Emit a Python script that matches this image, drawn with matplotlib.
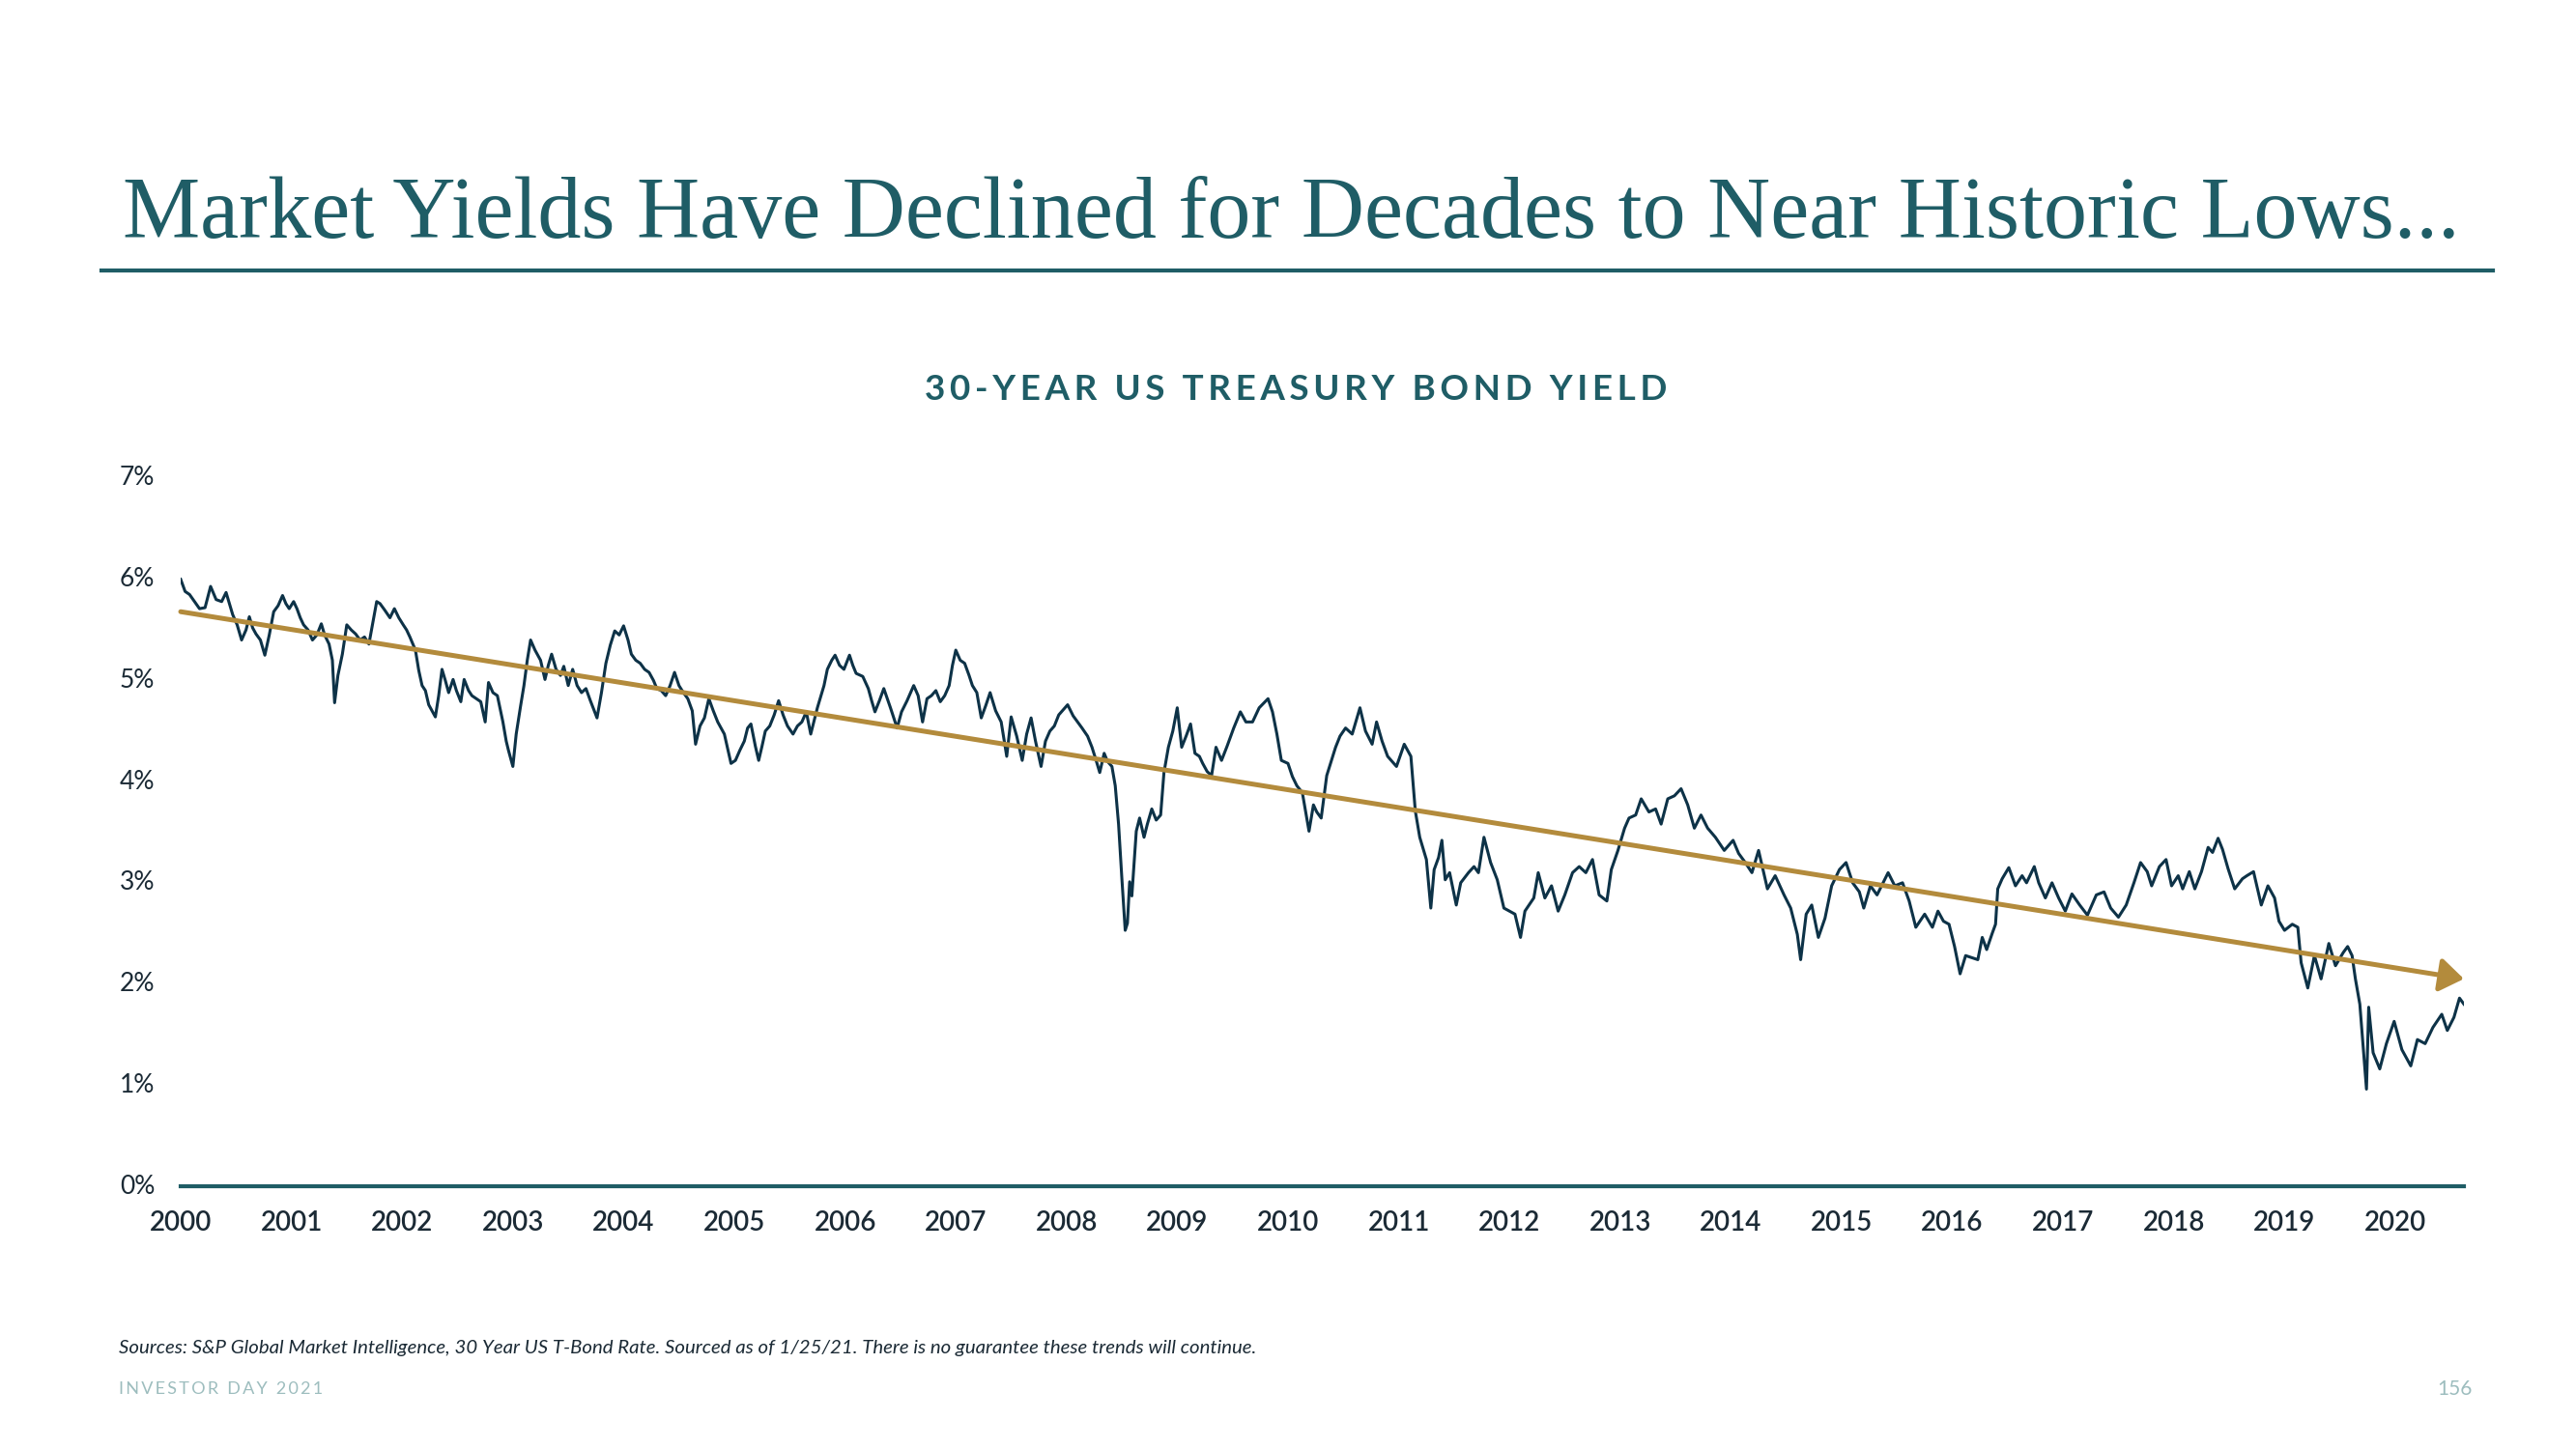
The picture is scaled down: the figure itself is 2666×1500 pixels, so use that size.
import matplotlib
matplotlib.use("Agg")
import matplotlib.pyplot as plt
import matplotlib.transforms as mtransforms
from matplotlib.lines import Line2D

# 30-year treasury yield (decimal year, percent)
dates = [
    2000.00, 2000.04, 2000.08, 2000.17, 2000.22, 2000.27, 2000.32, 2000.37, 2000.41, 2000.47,
    2000.51, 2000.55, 2000.59, 2000.62, 2000.65, 2000.68, 2000.72, 2000.76, 2000.80, 2000.84,
    2000.88, 2000.92, 2000.95, 2000.98, 2001.02, 2001.05, 2001.08, 2001.11, 2001.15, 2001.19,
    2001.23, 2001.27, 2001.30, 2001.34, 2001.37, 2001.39, 2001.42, 2001.46, 2001.50, 2001.54,
    2001.58, 2001.62, 2001.66, 2001.70, 2001.74, 2001.77, 2001.80, 2001.84, 2001.89, 2001.93,
    2001.97, 2002.01, 2002.04, 2002.07, 2002.12, 2002.15, 2002.18, 2002.21, 2002.24, 2002.27,
    2002.30, 2002.33, 2002.36, 2002.39, 2002.42, 2002.46, 2002.49, 2002.53, 2002.56, 2002.60,
    2002.63, 2002.67, 2002.71, 2002.75, 2002.78, 2002.82, 2002.86, 2002.91, 2002.94, 2002.96,
    2003.00, 2003.03, 2003.07, 2003.10, 2003.13, 2003.16, 2003.20, 2003.25, 2003.29, 2003.32,
    2003.35, 2003.39, 2003.43, 2003.46, 2003.50, 2003.54, 2003.58, 2003.62, 2003.66, 2003.70,
    2003.76, 2003.80, 2003.84, 2003.88, 2003.92, 2003.96, 2004.00, 2004.04, 2004.07, 2004.11,
    2004.15, 2004.19, 2004.23, 2004.27, 2004.30, 2004.34, 2004.38, 2004.42, 2004.46, 2004.50,
    2004.54, 2004.58, 2004.62, 2004.65, 2004.69, 2004.73, 2004.77, 2004.81, 2004.85, 2004.91,
    2004.97, 2005.01, 2005.05, 2005.09, 2005.12, 2005.15, 2005.19, 2005.22, 2005.25, 2005.28,
    2005.32, 2005.36, 2005.40, 2005.44, 2005.48, 2005.53, 2005.57, 2005.61, 2005.65, 2005.69,
    2005.72, 2005.75, 2005.81, 2005.84, 2005.88, 2005.91, 2005.95, 2005.99, 2006.04, 2006.07,
    2006.10, 2006.16, 2006.21, 2006.24, 2006.27, 2006.31, 2006.35, 2006.41, 2006.47, 2006.51,
    2006.56, 2006.62, 2006.66, 2006.70, 2006.74, 2006.78, 2006.82, 2006.86, 2006.90, 2006.94,
    2006.97, 2007.00, 2007.04, 2007.08, 2007.12, 2007.15, 2007.19, 2007.23, 2007.27, 2007.31,
    2007.36, 2007.41, 2007.46, 2007.50, 2007.55, 2007.60, 2007.64, 2007.68, 2007.72, 2007.77,
    2007.81, 2007.85, 2007.89, 2007.93, 2008.01, 2008.06, 2008.10, 2008.14, 2008.19, 2008.23,
    2008.27, 2008.30, 2008.34, 2008.37, 2008.41, 2008.44, 2008.47, 2008.50, 2008.53, 2008.55,
    2008.57, 2008.59, 2008.63, 2008.66, 2008.70, 2008.73, 2008.77, 2008.81, 2008.85, 2008.88,
    2008.92, 2008.96, 2009.00, 2009.04, 2009.08, 2009.12, 2009.16, 2009.20, 2009.23, 2009.27,
    2009.31, 2009.35, 2009.40, 2009.45, 2009.51, 2009.57, 2009.62, 2009.68, 2009.74, 2009.82,
    2009.86, 2009.90, 2009.94, 2010.00, 2010.04, 2010.08, 2010.13, 2010.19, 2010.23, 2010.26,
    2010.30, 2010.35, 2010.43, 2010.47, 2010.52, 2010.58, 2010.65, 2010.70, 2010.76, 2010.80,
    2010.85, 2010.90, 2010.98, 2011.05, 2011.11, 2011.15, 2011.19, 2011.25, 2011.29, 2011.32,
    2011.36, 2011.39, 2011.42, 2011.46, 2011.52, 2011.56, 2011.63, 2011.68, 2011.72, 2011.77,
    2011.83, 2011.89, 2011.95, 2012.00, 2012.05, 2012.10, 2012.14, 2012.22, 2012.26, 2012.32,
    2012.38, 2012.44, 2012.50, 2012.57, 2012.63, 2012.69, 2012.75, 2012.81, 2012.88, 2012.92,
    2012.98, 2013.04, 2013.08, 2013.14, 2013.19, 2013.26, 2013.32, 2013.37, 2013.43, 2013.49,
    2013.55, 2013.61, 2013.67, 2013.73, 2013.79, 2013.86, 2013.94, 2014.02, 2014.07, 2014.13,
    2014.19, 2014.25, 2014.33, 2014.40, 2014.48, 2014.54, 2014.60, 2014.63, 2014.68, 2014.73,
    2014.79, 2014.85, 2014.91, 2014.98, 2015.04, 2015.10, 2015.16, 2015.20, 2015.26, 2015.32,
    2015.42, 2015.48, 2015.55, 2015.61, 2015.67, 2015.75, 2015.82, 2015.87, 2015.92, 2015.97,
    2016.02, 2016.07, 2016.12, 2016.23, 2016.27, 2016.31, 2016.36, 2016.39, 2016.41, 2016.45,
    2016.51, 2016.57, 2016.63, 2016.67, 2016.74, 2016.78, 2016.84, 2016.90, 2016.96, 2017.02,
    2017.08, 2017.15, 2017.22, 2017.30, 2017.37, 2017.43, 2017.50, 2017.57, 2017.64, 2017.70,
    2017.76, 2017.80, 2017.87, 2017.93, 2017.98, 2018.04, 2018.08, 2018.14, 2018.19, 2018.25,
    2018.31, 2018.35, 2018.40, 2018.44, 2018.49, 2018.55, 2018.62, 2018.66, 2018.72, 2018.79,
    2018.85, 2018.91, 2018.95, 2019.00, 2019.07, 2019.12, 2019.15, 2019.21, 2019.27, 2019.33,
    2019.40, 2019.46, 2019.53, 2019.57, 2019.61, 2019.64, 2019.68, 2019.71, 2019.74, 2019.76,
    2019.80, 2019.86, 2019.92, 2019.99, 2020.06, 2020.14, 2020.20, 2020.27, 2020.34, 2020.42,
    2020.47, 2020.53, 2020.58, 2020.62,
]
yields = [
    6.00, 5.88, 5.85, 5.71, 5.72, 5.93, 5.80, 5.78, 5.87, 5.65,
    5.55, 5.40, 5.50, 5.63, 5.52, 5.46, 5.40, 5.25, 5.45, 5.68,
    5.74, 5.84, 5.76, 5.71, 5.78, 5.71, 5.62, 5.55, 5.50, 5.40,
    5.45, 5.56, 5.45, 5.36, 5.20, 4.78, 5.05, 5.26, 5.55, 5.50,
    5.46, 5.40, 5.43, 5.36, 5.60, 5.78, 5.76, 5.70, 5.62, 5.71,
    5.62, 5.55, 5.50, 5.43, 5.30, 5.10, 4.95, 4.90, 4.76, 4.70,
    4.64, 4.85, 5.11, 5.00, 4.88, 5.01, 4.90, 4.79, 5.01, 4.90,
    4.85, 4.82, 4.79, 4.59, 4.98, 4.88, 4.85, 4.59, 4.40, 4.31,
    4.15, 4.47, 4.75, 4.95, 5.20, 5.40, 5.30, 5.20, 5.01, 5.15,
    5.26, 5.11, 5.05, 5.14, 4.95, 5.11, 4.95, 4.88, 4.92, 4.80,
    4.63, 4.88, 5.17, 5.35, 5.49, 5.45, 5.54, 5.40, 5.26, 5.20,
    5.17, 5.11, 5.08, 5.00, 4.92, 4.90, 4.85, 4.95, 5.08, 4.95,
    4.88, 4.82, 4.70, 4.37, 4.55, 4.63, 4.82, 4.70, 4.59, 4.47,
    4.18, 4.21, 4.31, 4.40, 4.53, 4.57, 4.35, 4.21, 4.35, 4.50,
    4.55, 4.66, 4.80, 4.66, 4.55, 4.47, 4.55, 4.59, 4.69, 4.47,
    4.60, 4.73, 4.95, 5.11, 5.20, 5.25, 5.15, 5.11, 5.25, 5.15,
    5.07, 5.04, 4.92, 4.80, 4.69, 4.80, 4.92, 4.73, 4.53, 4.69,
    4.80, 4.95, 4.85, 4.59, 4.82, 4.85, 4.90, 4.79, 4.85, 4.95,
    5.15, 5.30, 5.20, 5.17, 5.05, 4.95, 4.88, 4.63, 4.75, 4.88,
    4.70, 4.59, 4.25, 4.64, 4.45, 4.21, 4.47, 4.63, 4.40, 4.15,
    4.40, 4.50, 4.55, 4.66, 4.76, 4.65, 4.59, 4.53, 4.45, 4.34,
    4.20, 4.09, 4.28, 4.20, 4.15, 3.96, 3.58, 3.04, 2.53, 2.60,
    3.01, 2.87, 3.51, 3.64, 3.45, 3.58, 3.73, 3.62, 3.67, 4.09,
    4.34, 4.50, 4.73, 4.34, 4.45, 4.57, 4.28, 4.25, 4.18, 4.10,
    4.06, 4.34, 4.21, 4.35, 4.53, 4.69, 4.59, 4.59, 4.73, 4.82,
    4.69, 4.47, 4.21, 4.18, 4.05, 3.96, 3.89, 3.51, 3.77, 3.70,
    3.64, 4.06, 4.34, 4.45, 4.53, 4.47, 4.73, 4.50, 4.37, 4.59,
    4.40, 4.25, 4.15, 4.37, 4.25, 3.71, 3.45, 3.23, 2.75, 3.13,
    3.25, 3.42, 3.03, 3.10, 2.78, 3.00, 3.10, 3.16, 3.10, 3.45,
    3.20, 3.03, 2.75, 2.72, 2.69, 2.46, 2.72, 2.85, 3.10, 2.85,
    2.97, 2.72, 2.88, 3.10, 3.16, 3.10, 3.23, 2.88, 2.82, 3.13,
    3.32, 3.54, 3.64, 3.67, 3.83, 3.70, 3.73, 3.58, 3.83, 3.86,
    3.93, 3.77, 3.54, 3.67, 3.54, 3.45, 3.32, 3.42, 3.29, 3.20,
    3.10, 3.32, 2.94, 3.07, 2.88, 2.75, 2.49, 2.24, 2.69, 2.78,
    2.46, 2.65, 2.97, 3.13, 3.20, 3.00, 2.91, 2.75, 2.97, 2.88,
    3.10, 2.97, 3.00, 2.82, 2.56, 2.69, 2.56, 2.72, 2.62, 2.59,
    2.37, 2.10, 2.28, 2.24, 2.46, 2.34, 2.50, 2.59, 2.94, 3.04,
    3.15, 2.97, 3.07, 3.00, 3.16, 3.00, 2.85, 3.00, 2.85, 2.72,
    2.89, 2.78, 2.68, 2.88, 2.91, 2.75, 2.66, 2.78, 3.00, 3.20,
    3.11, 2.97, 3.16, 3.23, 2.97, 3.07, 2.94, 3.11, 2.94, 3.11,
    3.35, 3.30, 3.44, 3.33, 3.14, 2.94, 3.04, 3.07, 3.11, 2.78,
    2.97, 2.85, 2.62, 2.53, 2.59, 2.56, 2.21, 1.96, 2.28, 2.05,
    2.40, 2.18, 2.31, 2.37, 2.28, 2.05, 1.80, 1.38, 0.96, 1.77,
    1.32, 1.16, 1.41, 1.63, 1.35, 1.19, 1.45, 1.41, 1.57, 1.70,
    1.54, 1.67, 1.86, 1.80,
]

# trend arrow, start and end as drawn
trend_x = [2000.0, 2020.62]
trend_y = [5.68, 2.05]

year_ticks = list(range(2000, 2021))
year_labels = [str(y) for y in year_ticks]
pct_ticks = [0, 1, 2, 3, 4, 5, 6, 7]
pct_labels = [f"{p}%" for p in pct_ticks]

TEAL = "#1f5d66"
NAVY = "#0d3247"
GOLD = "#b38b3c"
DARK = "#1b2a35"
LIGHT = "#9dbdbe"
SANS = ["Lato", "DejaVu Sans"]

W, H = 2666, 1500
fig = plt.figure(figsize=(W / 100, H / 100), dpi=100)
fig.patch.set_facecolor("white")

# slide title and rule
fig.text(127 / W, 1 - 246 / H, "Market Yields Have Declined for Decades to Near Historic Lows...",
         fontsize=64.9, color=TEAL, family=["Liberation Serif", "DejaVu Serif"],
         ha="left", va="baseline")
fig.add_artist(Line2D([105 / W, 2580 / W], [1 - 280 / H, 1 - 280 / H], color=TEAL, lw=3))

fig.text(1341 / W, 1 - 403 / H, "\u2009".join("30-YEAR US TREASURY BOND YIELD"),
         fontsize=26.5, color=TEAL, family=SANS, weight="bold", ha="center", va="center")

ax = fig.add_axes([187 / W, 272 / H, (2550 - 187) / W, (1228 - 495) / H])
ax.plot(dates, yields, color=NAVY, lw=2.2, solid_joinstyle="round")
ax.annotate("", xy=(trend_x[1], trend_y[1]), xytext=(trend_x[0], trend_y[0]),
            arrowprops=dict(arrowstyle="-|>,head_length=0.5,head_width=0.35",
                            color=GOLD, lw=3.6, mutation_scale=30,
                            shrinkA=0, shrinkB=0))

ax.set_xlim(2000, 2020.62)
ax.set_ylim(0, 7)
for side in ["top", "right", "left"]:
    ax.spines[side].set_visible(False)
ax.spines["bottom"].set_color(TEAL)
ax.spines["bottom"].set_linewidth(3)
ax.set_yticks([])
ax.set_xticks(year_ticks)
ax.set_xticklabels(year_labels, fontsize=20, color=DARK, family=SANS, weight="semibold")
ax.tick_params(axis="x", length=0, pad=18)

# y labels sit left-aligned at the slide margin
trans = mtransforms.blended_transform_factory(fig.transFigure, ax.transData)
for p, lab in zip(pct_ticks, pct_labels):
    ax.text(124 / W, p, lab, transform=trans, fontsize=19, color=DARK, family=SANS,
            ha="left", va="center")

fig.text(123 / W, 1 - 1395 / H,
         "Sources: S&P Global Market Intelligence, 30 Year US T-Bond Rate. Sourced as of 1/25/21. "
         "There is no guarantee these trends will continue.",
         fontsize=14.7, color=DARK, family=SANS, style="italic", ha="left", va="center")
fig.text(123 / W, 1 - 1438 / H, "\u2009".join("INVESTOR DAY 2021"), fontsize=13, color=LIGHT,
         family=SANS, ha="left", va="center")
fig.text(2559 / W, 1 - 1438 / H, "156", fontsize=15, color=LIGHT, family=SANS,
         ha="right", va="center")

fig.savefig("out.png", dpi=100)
